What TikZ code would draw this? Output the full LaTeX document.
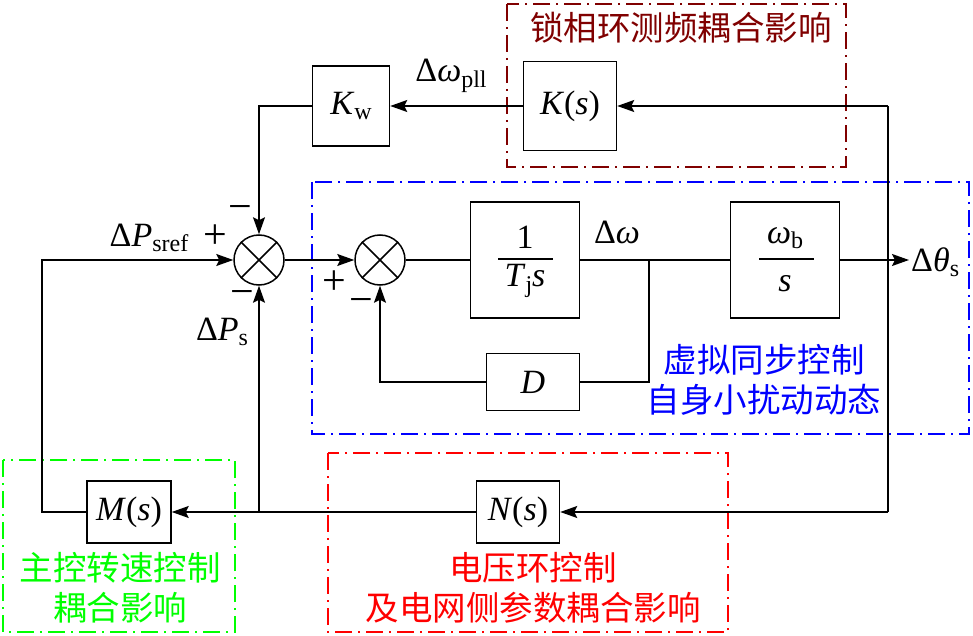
\documentclass[tikz,border=0pt]{standalone}
\usepackage{fontspec}
\setmainfont{Liberation Serif}
\newfontfamily\cjk{Noto Sans CJK SC}
\usetikzlibrary{arrows.meta}
\definecolor{pllred}{RGB}{128,0,0}
\newcommand{\vi}[1]{\textit{#1}}
\newcommand{\idx}[1]{\raisebox{-0.35ex}{\fontsize{24}{24}\selectfont #1}}
\tikzset{
  blk/.style={draw, line width=1.5pt, inner sep=0pt, fill=white, font=\fontsize{34}{40}\selectfont},
  sumj/.style={draw, circle, line width=1.5pt, minimum size=50pt, inner sep=0pt},
  wire/.style={line width=1.5pt},
  sig/.style={wire, -{Stealth[length=17pt,width=12pt,inset=3pt]}},
  zone/.style={line width=1.3pt, dash pattern=on 17pt off 6pt on 2pt off 6pt},
  txt/.style={font=\fontsize{34}{40}\selectfont, inner sep=0pt},
  sgn/.style={font=\fontsize{42}{42}\selectfont, inner sep=0pt},
  cn/.style={font=\cjk\fontsize{33.5}{40}\selectfont, inner sep=0pt, align=center},
}
\begin{document}
\begin{tikzpicture}[x=1pt, y=-1pt]
\useasboundingbox (0,0) rectangle (973,636);
% zones
\draw[zone, pllred] (507,4) rectangle (846,167);
\draw[zone, blue] (312,182) rectangle (969,434);
\draw[zone, green] (3,460) rectangle (235,632);
\draw[zone, red] (328,453) rectangle (728,632);
\node[cn, pllred] (tpll) at (681,28) {锁相环测频耦合影响};
\node[cn, blue] (tvsg) at (764,380) {虚拟同步控制\\自身小扰动动态};
\node[cn, green] (tmpc) at (120,588) {主控转速控制\\耦合影响};
\node[cn, red] (tvol) at (533,588) {电压环控制\\及电网侧参数耦合影响};

% blocks
\node[blk, minimum width=77pt, minimum height=80pt] (kw) at (351,106) {\vi{K}\idx{w}};
\node[blk, minimum width=93pt, minimum height=89pt] (ks) at (570,106) {\vi{K}(\vi{s})};
\node[sumj] (s1) at (259,260) {};
\node[sumj] (s2) at (380,260) {};
\node[blk, minimum width=109pt, minimum height=116pt] (tf1) at (525,260) {};
\node[blk, minimum width=109pt, minimum height=116pt] (tf2) at (785,260) {};
\node[blk, minimum width=93pt, minimum height=57pt] (d) at (533,382) {\vi{D}};
\node[blk, minimum width=84pt, minimum height=62pt] (ms) at (129,512) {\vi{M}(\vi{s})};
\node[blk, minimum width=83pt, minimum height=62pt] (ns) at (518,512) {\vi{N}(\vi{s})};
\foreach \j in {s1,s2}{
  \draw[wire] (\j.north west) -- (\j.south east);
  \draw[wire] (\j.north east) -- (\j.south west);
}
% fractions
\node[txt] (one) at (525,237) {1};
\node[txt] (tjs) at (525,281) {\vi{T}\idx{j}\vi{s}};
\draw[wire] (498,259) -- (553,259);
\node[txt] (wb) at (785,238) {\vi{ω}\idx{b}};
\node[txt] (sb) at (785,284) {\vi{s}};
\draw[wire] (759,259) -- (814,259);

% branch points
\coordinate (cl) at (42,260);
\coordinate (cw) at (649,260);
\coordinate (co) at (888,260);
\coordinate (th) at (909,260);
\coordinate (rtop) at (888,106);
\coordinate (rbot) at (888,512);
\coordinate (cp) at (259,512);

% connectors
\draw[sig] (s1.east) -- (s2.west);
\draw[wire] (s2.east) -- (tf1.west);
\draw[wire] (tf1.east) -- (tf2.west);
\draw[sig] (tf2.east) -- (th);
\draw[wire] (cw) |- (d.east);
\draw[sig] (d.west) -| (s2.south);
\draw[wire] (rtop) -- (rbot);
\draw[sig] (rtop) -- (ks.east);
\draw[sig] (ks.west) -- (kw.east);
\draw[sig] (kw.west) -| (s1.north);
\draw[sig] (rbot) -- (ns.east);
\draw[sig] (ns.west) -- (ms.east);
\draw[sig] (cp) -- (s1.south);
\draw[sig] (ms.west) -| (cl) -- (s1.west);

% labels
\node[txt] (lref) at (149,238) {Δ\vi{P}\idx{sref}};
\node[txt] (lps) at (222,332) {Δ\vi{P}\idx{s}};
\node[txt] (lpll) at (451,76) {Δ\vi{ω}\idx{pll}};
\node[txt] (lw) at (617,232) {Δ\vi{ω}};
\node[txt, anchor=west] (lth) at (911,262) {Δ\vi{θ}\idx{s}};
\node[sgn] (p1) at (215,237) {+};
\node[sgn] (m1) at (240,213) {−};
\node[sgn] (m2) at (242,298) {−};
\node[sgn] (p2) at (334,283) {+};
\node[sgn] (m3) at (361,306) {−};
\end{tikzpicture}
\end{document}
